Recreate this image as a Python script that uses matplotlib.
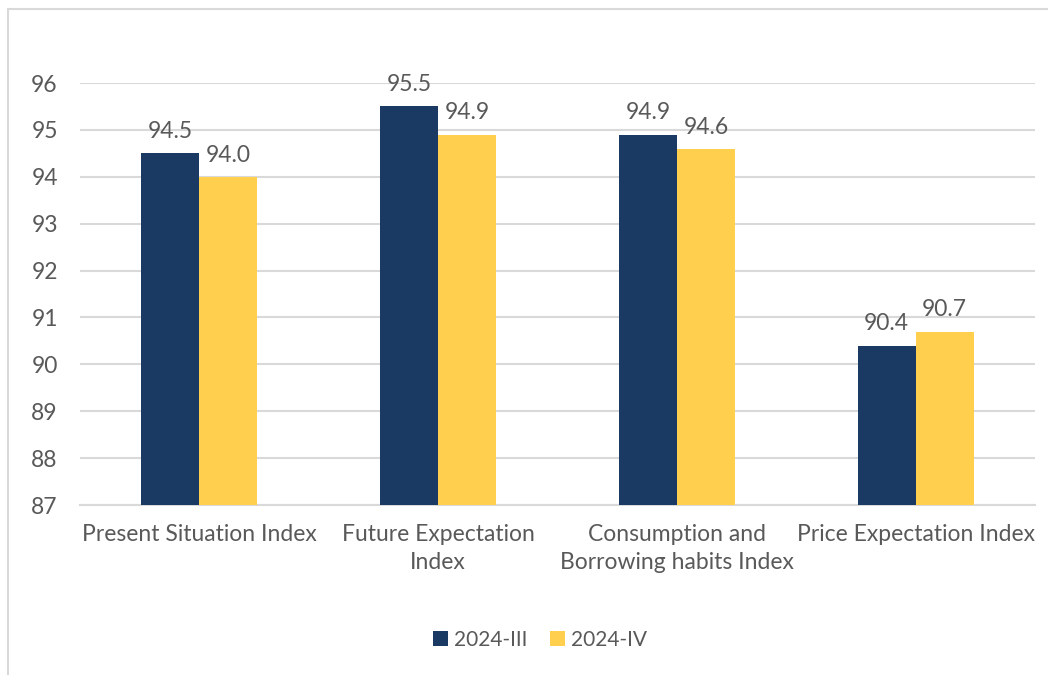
import numpy as np
import matplotlib
matplotlib.use("Agg")
import matplotlib.pyplot as plt
from matplotlib.patches import Rectangle

# -----------------------------
# Data
# -----------------------------
categories = [
    "Present Situation Index",
    "Future Expectation\nIndex",
    "Consumption and\nBorrowing habits Index",
    "Price Expectation Index",
]
q3_values = [94.5, 95.5, 94.9, 90.4]
q4_values = [94.0, 94.9, 94.6, 90.7]
series_names = ["2024-III", "2024-IV"]
y_ticks = [87, 88, 89, 90, 91, 92, 93, 94, 95, 96]

BLUE = "#1a3a63"
YELLOW = "#ffcf4d"
TEXT = "#595959"
GRID = "#d9d9d9"

plt.rcParams["font.family"] = ["Lato", "DejaVu Sans"]

W, H = 1048, 675
fig = plt.figure(figsize=(W / 100, H / 100), dpi=100)

# outer chart border (cropped at right/bottom)
fig.patches.append(Rectangle((8 / W, -0.1), 1.2, 1 - 9 / H + 0.1,
                             transform=fig.transFigure, fill=False,
                             edgecolor=GRID, linewidth=1.5))

ax = fig.add_axes([80 / W, 1 - 505 / H, (1035 - 80) / W, (505 - 83) / H])

x = np.arange(len(categories))
bw = 0.243
b1 = ax.bar(x - bw / 2, q3_values, bw, color=BLUE, label=series_names[0], zorder=3)
b2 = ax.bar(x + bw / 2, q4_values, bw, color=YELLOW, label=series_names[1], zorder=3)

for bars, vals in ((b1, q3_values), (b2, q4_values)):
    for r, v in zip(bars, vals):
        ax.annotate(f"{v:.1f}", (r.get_x() + r.get_width() / 2, v),
                    xytext=(0, 8), textcoords="offset points",
                    ha="center", va="bottom", fontsize=16.5, color=TEXT)

ax.set_xlim(-0.5, len(categories) - 0.5)
ax.set_ylim(87, 96)
ax.set_yticks(y_ticks)
ax.set_xticks(x)
ax.set_xticklabels(categories, linespacing=1.4)
ax.tick_params(axis="y", length=0, pad=16, labelsize=16.5, labelcolor=TEXT)
ax.tick_params(axis="x", length=0, pad=14, labelsize=16.5, labelcolor=TEXT)
ax.grid(axis="y", color=GRID, linewidth=1.5, zorder=0)
for s in ("top", "right", "left"):
    ax.spines[s].set_visible(False)
ax.spines["bottom"].set_color(GRID)
ax.spines["bottom"].set_linewidth(1.5)

fig.legend(handles=[b1, b2], labels=series_names, loc="center",
           bbox_to_anchor=(540 / W, 1 - 640 / H), ncol=2, frameon=False,
           fontsize=15, handlelength=0.7, handleheight=0.7,
           handletextpad=0.3, columnspacing=1.1, labelcolor=TEXT)

fig.savefig("out.png", dpi=100, facecolor="white")
